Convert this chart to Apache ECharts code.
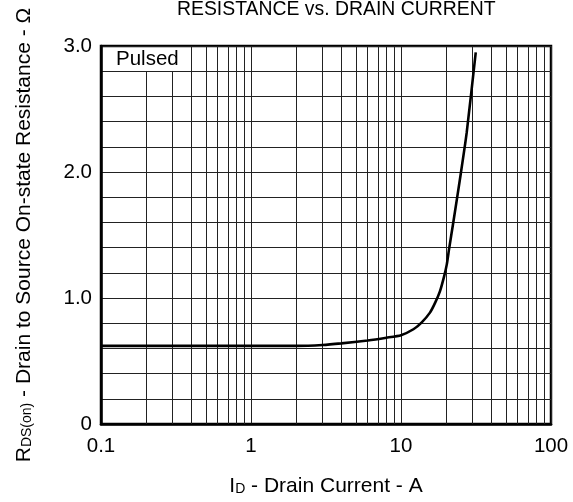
<!DOCTYPE html>
<html>
<head>
<meta charset="utf-8">
<script src="https://cdn.jsdelivr.net/npm/echarts@6/dist/echarts.min.js"></script>
<style>html,body{margin:0;padding:0;background:#fff;}#c{width:573px;height:502px;}</style>
</head>
<body>
<div id="c"></div>
<script>
// Data
const drainCurrent = [0.1, 0.5, 1, 2, 3, 4, 6, 8, 10, 12.1, 13.7, 15.6, 16.9, 18.2, 19.4, 20.2, 20.9, 22.3, 24.7, 27.4, 31.5];
const resistance   = [0.62, 0.62, 0.62, 0.62, 0.627, 0.64, 0.663, 0.685, 0.705, 0.752, 0.805, 0.884, 0.963, 1.055, 1.174, 1.267, 1.386, 1.597, 1.94, 2.31, 2.95];
const xTickLabels = ['0.1', '1', '10', '100'];
const yTickLabels = ['0', '1.0', '2.0', '3.0'];
const minorX = [0.2,0.3,0.4,0.5,0.6,0.7,0.8,0.9, 2,3,4,5,6,7,8,9, 20,30,40,50,60,70,80,90];
const boxTop = 2.8;   // the "Pulsed" label box hides the upper part of lines below 0.4 A

const font = 'Liberation Sans, Arial, Helvetica, sans-serif';
const chart = echarts.init(document.getElementById('c'), null, {renderer: 'canvas'});

const markData = minorX.map(x => x < 0.35
  ? [{coord: [x, 0]}, {coord: [x, boxTop]}]
  : {xAxis: x});

chart.setOption({
  animation: false,
  backgroundColor: '#fff',
  title: {
    text: 'RESISTANCE vs. DRAIN CURRENT',
    left: 177, top: 0, padding: 0,
    textStyle: {fontFamily: font, fontSize: 19.4, fontWeight: 'normal', color: '#000'}
  },
  grid: {left: 101, right: 22, top: 46, bottom: 77, show: true, borderColor: '#000', borderWidth: 2.5, backgroundColor: 'transparent'},
  xAxis: {
    type: 'log', logBase: 10, min: 0.1, max: 100,
    axisLine: {show: true, lineStyle: {color: '#000', width: 2.5}},
    axisTick: {show: false},
    splitLine: {show: true, lineStyle: {color: '#222', width: 1}},
    axisLabel: {
      margin: 12, color: '#000', fontFamily: font, fontSize: 20.5,
      formatter: v => { const s = String(+(+v).toPrecision(3)); return xTickLabels.includes(s) ? s : ''; }
    },
    name: '{i|I}{s|D}{n| - Drain Current - A}',
    nameLocation: 'middle', nameGap: 52,
    nameTextStyle: {
      color: '#000', fontFamily: font, fontSize: 21,
      rich: {
        i: {fontFamily: font, fontSize: 21, color: '#000'},
        s: {fontFamily: font, fontSize: 14, color: '#000', padding: [6, 0, 0, 0]},
        n: {fontFamily: font, fontSize: 21, color: '#000'}
      }
    }
  },
  yAxis: {
    type: 'value', min: 0, max: 3, interval: 0.2,
    axisLine: {show: true, lineStyle: {color: '#000', width: 2.5}},
    axisTick: {show: false},
    splitLine: {show: true, lineStyle: {color: '#222', width: 1}},
    axisLabel: {
      margin: 9, color: '#000', fontFamily: font, fontSize: 20.5,
      formatter: v => {
        if (Math.abs(v - Math.round(v)) > 1e-6) return '';
        return yTickLabels[Math.round(v)];
      }
    },
    name: '{r|R}{s|DS(on)}{n| - Drain to Source On-state Resistance - Ω}',
    nameLocation: 'middle', nameGap: 66, nameRotate: 90,
    nameTextStyle: {
      color: '#000', fontFamily: font, fontSize: 21,
      rich: {
        r: {fontFamily: font, fontSize: 21, color: '#000'},
        s: {fontFamily: font, fontSize: 14, color: '#000', padding: [6, 0, 0, 0]},
        n: {fontFamily: font, fontSize: 21, color: '#000'}
      }
    }
  },
  graphic: [{
    type: 'text', left: 116, top: 49, silent: true,
    style: {text: 'Pulsed', fontFamily: font, fontSize: 20.5, fill: '#000'}
  }],
  series: [{
    type: 'line',
    data: drainCurrent.map((x, i) => [x, resistance[i]]),
    symbol: 'none', smooth: 0.2,
    lineStyle: {color: '#000', width: 2.6},
    z: 5,
    markLine: {
      silent: true, symbol: ['none', 'none'], animation: false,
      label: {show: false},
      lineStyle: {color: '#222', width: 1, type: 'solid'},
      emphasis: {disabled: true},
      data: markData
    }
  }]
});
</script>
</body>
</html>
